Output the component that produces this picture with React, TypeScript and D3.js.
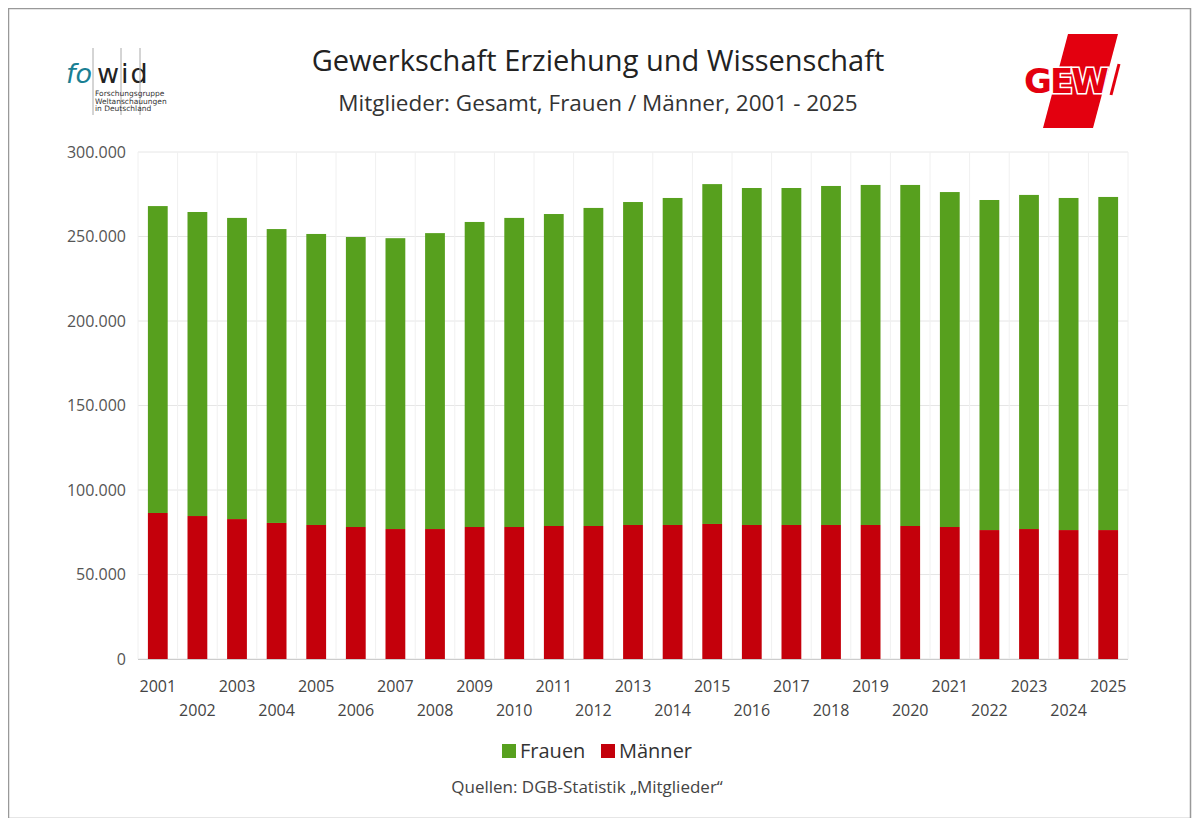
import { useEffect, useRef } from 'react';
import * as d3 from 'd3';

const years = [2001, 2002, 2003, 2004, 2005, 2006, 2007, 2008, 2009, 2010, 2011, 2012, 2013, 2014, 2015, 2016, 2017, 2018, 2019, 2020, 2021, 2022, 2023, 2024, 2025];
const maenner = [86400, 84600, 82800, 80500, 79300, 78100, 76900, 76900, 78100, 78100, 78700, 78700, 79300, 79300, 79900, 79300, 79300, 79300, 79300, 78700, 78100, 76300, 76900, 76300, 76300];
const frauen = [181600, 179900, 178200, 173900, 172200, 171600, 172100, 175100, 180500, 182900, 184600, 188200, 191100, 193500, 201100, 199400, 199400, 200600, 201200, 201800, 198200, 195300, 197700, 196500, 197100];
const yTicks = [0, 50000, 100000, 150000, 200000, 250000, 300000];

const font = "'Open Sans', sans-serif";

export default function App() {
  const svgRef = useRef<SVGSVGElement>(null);

  useEffect(() => {
    if (!svgRef.current) return;
    const svg = d3.select(svgRef.current);
    svg.selectAll('*').remove();

    svg.append('rect').attr('x', 8.5).attr('y', 8.5).attr('width', 1182).attr('height', 810)
      .attr('fill', '#fff').attr('stroke', '#999').attr('stroke-width', 1.5);

    const x = d3.scaleBand<number>().domain(years).range([138, 1128]).paddingInner(0.5).paddingOuter(0.25);
    const y = d3.scaleLinear().domain([0, 300000]).range([659, 152]);

    // grid
    svg.append('g').selectAll('line').data(yTicks).join('line')
      .attr('x1', 138).attr('x2', 1128).attr('y1', (d) => y(d)).attr('y2', (d) => y(d))
      .attr('stroke', '#e6e6e6');
    const bw = (1128 - 138) / years.length;
    svg.append('g').selectAll('line').data(d3.range(years.length + 1)).join('line')
      .attr('x1', (i) => 138 + i * bw).attr('x2', (i) => 138 + i * bw)
      .attr('y1', 152).attr('y2', 659).attr('stroke', '#f0f0f0');

    // y labels
    svg.append('g').selectAll('text').data(yTicks).join('text')
      .attr('x', 126).attr('y', (d) => y(d)).attr('dy', '0.35em').attr('text-anchor', 'end')
      .attr('font-family', font).attr('font-size', 16).attr('fill', '#555')
      .text((d) => d3.format(',')(d).replace(/,/g, '.'));

    // bars
    svg.append('g').selectAll('rect').data(years).join('rect')
      .attr('x', (d) => x(d)!).attr('width', x.bandwidth())
      .attr('y', (_, i) => y(maenner[i])).attr('height', (_, i) => y(0) - y(maenner[i]))
      .attr('fill', '#c4000b');
    svg.append('g').selectAll('rect').data(years).join('rect')
      .attr('x', (d) => x(d)!).attr('width', x.bandwidth())
      .attr('y', (_, i) => y(maenner[i] + frauen[i])).attr('height', (_, i) => y(maenner[i]) - y(maenner[i] + frauen[i]))
      .attr('fill', '#57a01e');

    // x axis
    svg.append('line').attr('x1', 138).attr('x2', 1128).attr('y1', 659.5).attr('y2', 659.5).attr('stroke', '#ccc');
    svg.append('g').selectAll('text').data(years).join('text')
      .attr('x', (d) => x(d)! + x.bandwidth() / 2).attr('y', (_, i) => (i % 2 === 0 ? 692 : 716))
      .attr('text-anchor', 'middle').attr('font-family', font).attr('font-size', 16).attr('fill', '#444')
      .text((d) => d);

    // titles
    svg.append('text').attr('x', 598).attr('y', 71).attr('text-anchor', 'middle')
      .attr('font-family', font).attr('font-size', 29).attr('fill', '#222').text('Gewerkschaft Erziehung und Wissenschaft');
    svg.append('text').attr('x', 598).attr('y', 111).attr('text-anchor', 'middle')
      .attr('font-family', font).attr('font-size', 22.5).attr('fill', '#333').text('Mitglieder: Gesamt, Frauen / Männer, 2001 - 2025');

    // legend
    const lg = svg.append('g').attr('font-family', font).attr('font-size', 20).attr('fill', '#333');
    lg.append('rect').attr('x', 502).attr('y', 744).attr('width', 14).attr('height', 14).attr('fill', '#57a01e');
    lg.append('text').attr('x', 520).attr('y', 758).text('Frauen');
    lg.append('rect').attr('x', 601).attr('y', 744).attr('width', 14).attr('height', 14).attr('fill', '#c4000b');
    lg.append('text').attr('x', 619).attr('y', 758).text('Männer');

    svg.append('text').attr('x', 587).attr('y', 793).attr('text-anchor', 'middle')
      .attr('font-family', font).attr('font-size', 17).attr('fill', '#444').text('Quellen: DGB-Statistik „Mitglieder“');

    // fowid logo
    const fw = svg.append('g').attr('font-family', "'DejaVu Sans', sans-serif");
    fw.append('text').attr('x', 66).attr('y', 83).attr('font-size', 27).attr('font-style', 'italic').attr('fill', '#1a7f93').text('fo');
    fw.append('text').attr('x', 97).attr('y', 83).attr('font-size', 27).attr('fill', '#222').attr('letter-spacing', 2).text('wid');
    [93, 121, 140].forEach((lx) => fw.append('line').attr('x1', lx).attr('x2', lx).attr('y1', 48).attr('y2', 115).attr('stroke', '#aaa'));
    ['Forschungsgruppe', 'Weltanschauungen', 'in Deutschland'].forEach((t, i) =>
      fw.append('text').attr('x', 95).attr('y', 96 + i * 7.5).attr('font-size', 7.5).attr('fill', '#333').text(t));

    // GEW logo
    const gw = svg.append('g');
    gw.append('polygon').attr('points', '1068,34 1118,34 1093,128 1043,128').attr('fill', '#e3000f');
    gw.append('text').attr('x', 1024).attr('y', 93).attr('font-family', "'DejaVu Sans', sans-serif").attr('font-weight', 'bold')
      .attr('font-size', 34).attr('fill', '#e3000f').attr('stroke', '#fff').attr('stroke-width', 3).attr('paint-order', 'stroke')
      .attr('letter-spacing', -2).text('GEW');
    gw.append('line').attr('x1', 1119).attr('y1', 64).attr('x2', 1111).attr('y2', 95).attr('stroke', '#e3000f').attr('stroke-width', 3);
  }, []);

  return <svg ref={svgRef} width={1200} height={826} style={{ display: 'block', margin: -8 }} />;
}
